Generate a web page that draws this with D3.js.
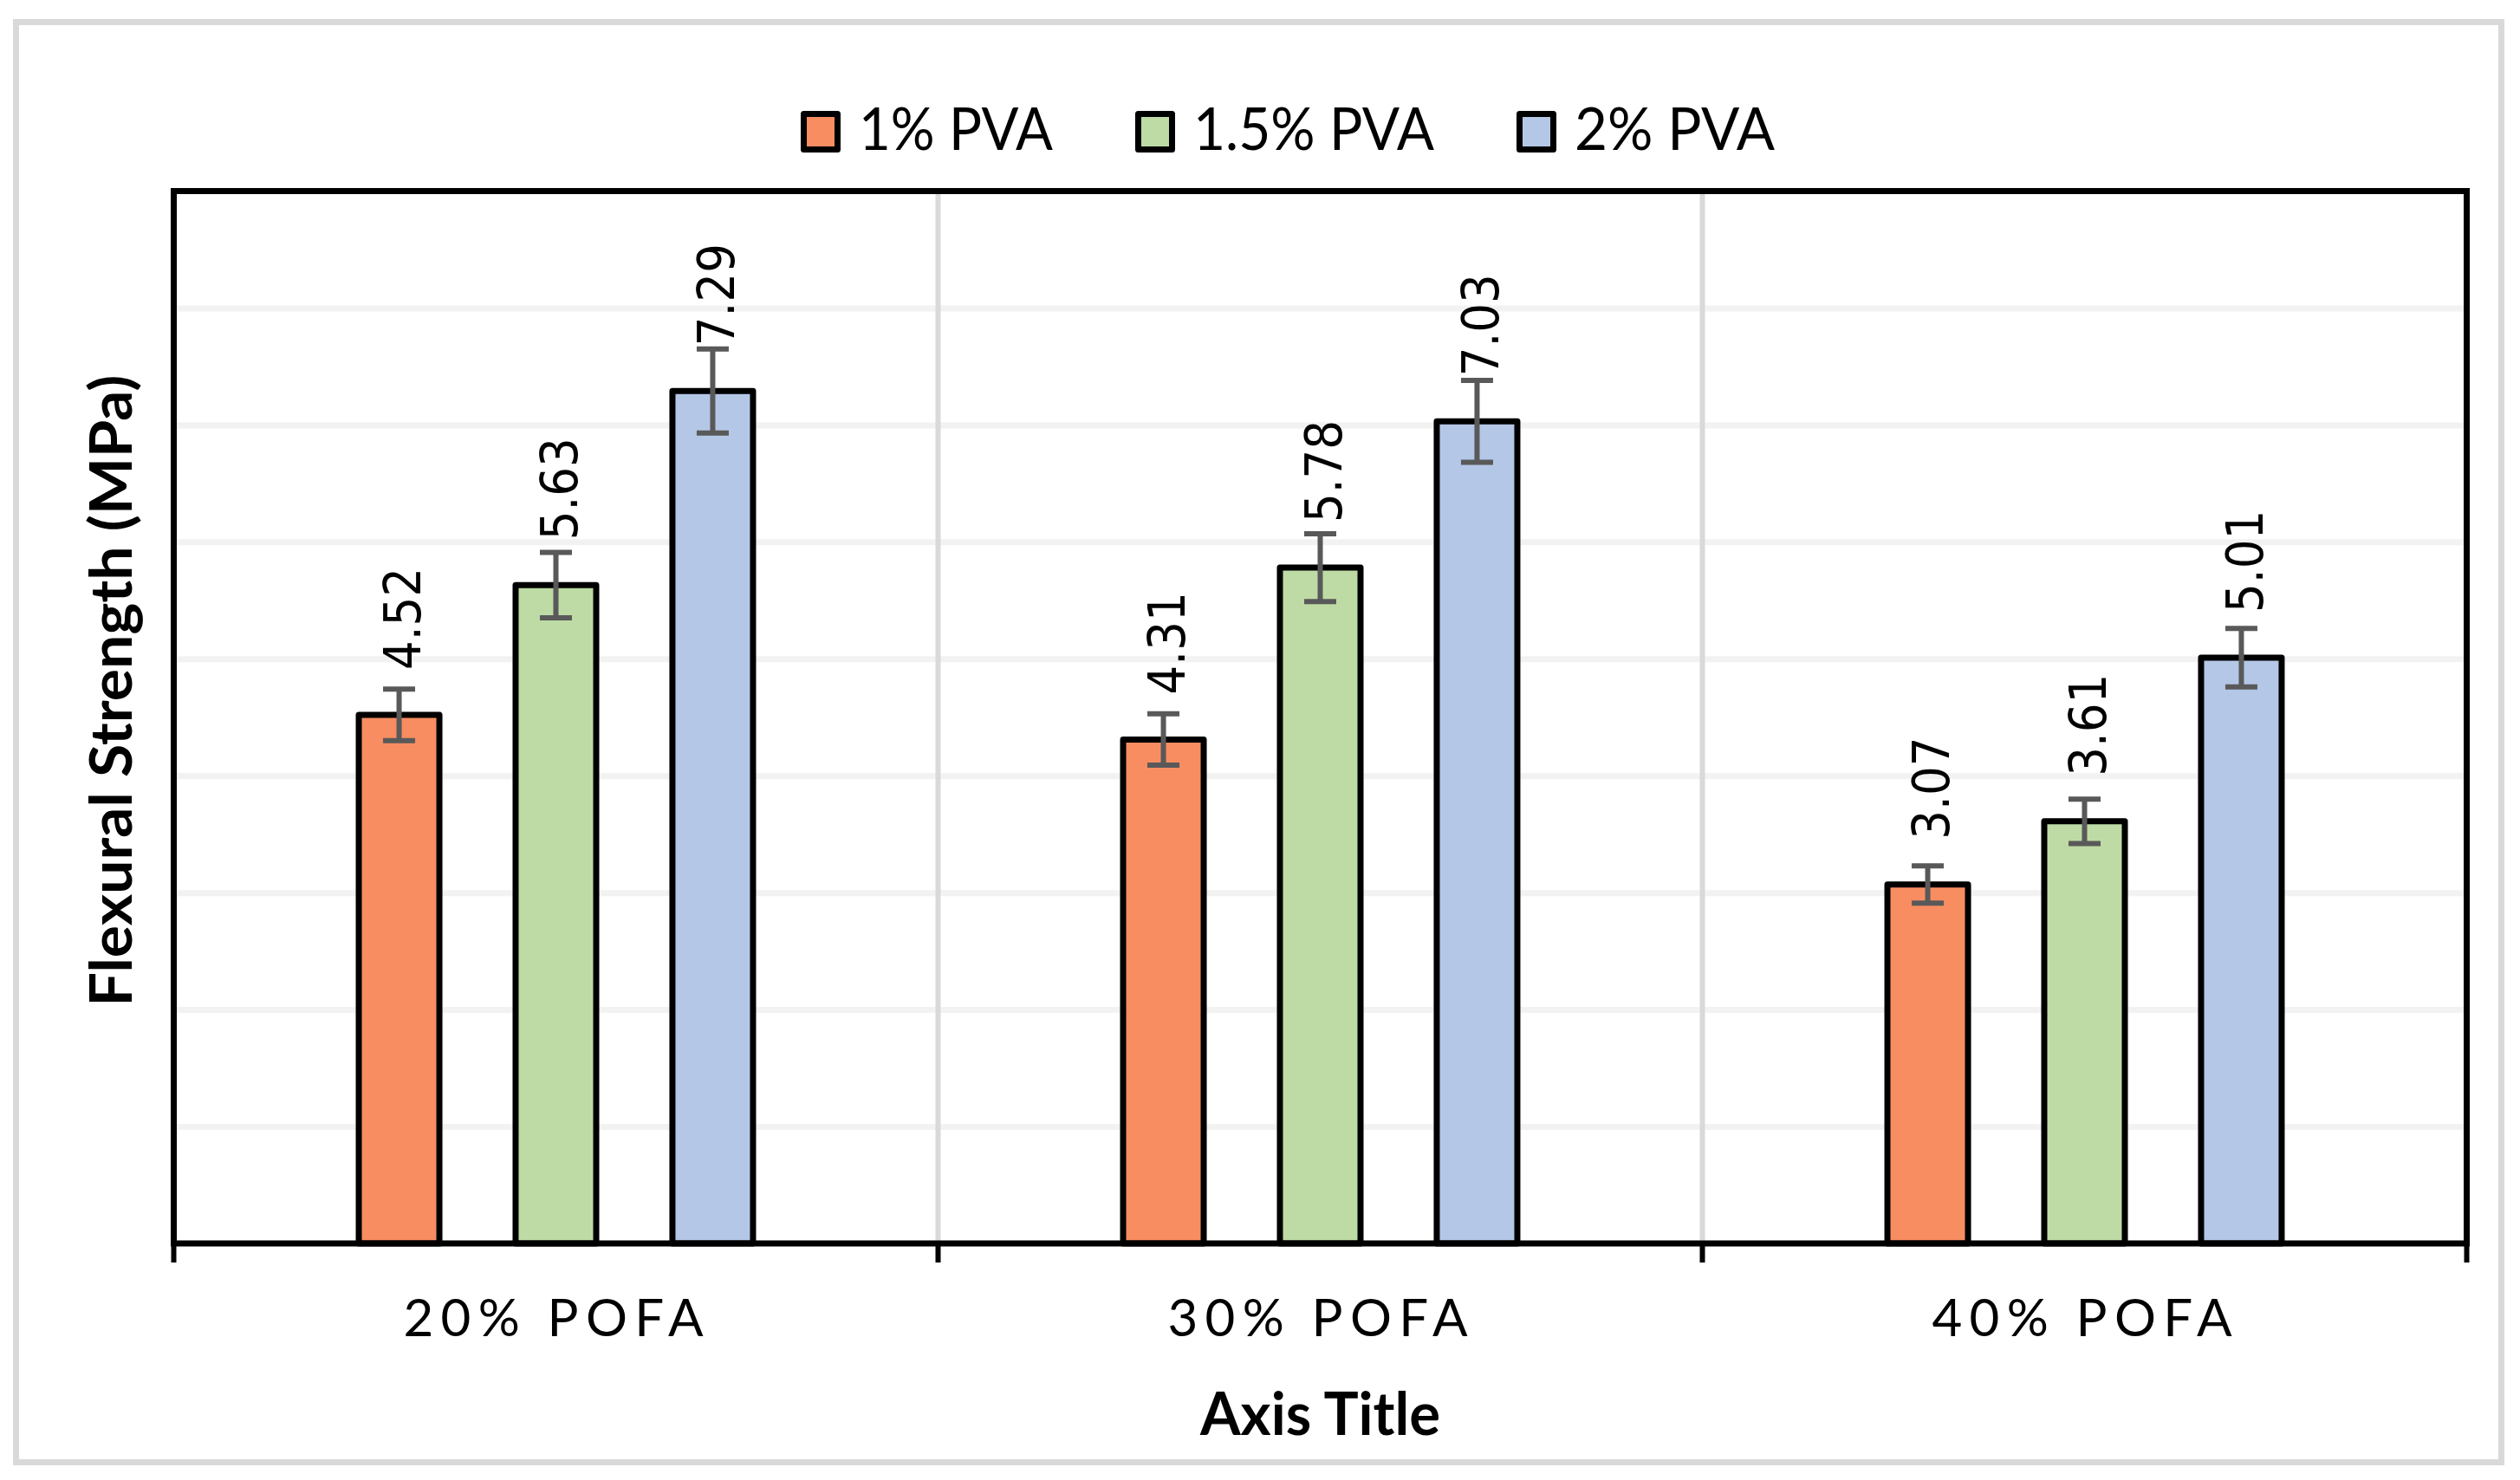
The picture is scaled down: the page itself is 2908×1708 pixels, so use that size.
<!DOCTYPE html>
<html>
<head>
<meta charset="utf-8">
<script src="https://cdn.jsdelivr.net/npm/d3@7"></script>
<style>
  html, body { margin: 0; padding: 0; background: #fff; }
  svg { display: block; }
</style>
</head>
<body>
<svg id="chart"></svg>
<script>
// Data
const categories = ["20% POFA", "30% POFA", "40% POFA"];
const series = ["1% PVA", "1.5% PVA", "2% PVA"];
const pva1 = [4.52, 4.31, 3.07];
const pva15 = [5.63, 5.78, 3.61];
const pva2 = [7.29, 7.03, 5.01];
const err1 = [0.22, 0.22, 0.16];
const err15 = [0.28, 0.29, 0.19];
const err2 = [0.36, 0.35, 0.25];
const gridTicks = [1, 2, 3, 4, 5, 6, 7, 8];

const values = [pva1, pva15, pva2];
const errors = [err1, err15, err2];
const colors = ["#F88D61", "#BEDBA6", "#B4C7E7"];

// Chart dimensions
const width = 2908;
const height = 1708;
const plotLeft = 200.5;
const plotRight = 2846.5;
const plotTop = 220.5;
const plotBottom = 1435;

const svg = d3.select("#chart")
  .attr("width", width)
  .attr("height", height)
  .attr("viewBox", [0, 0, width, height]);

// Outer chart frame
svg.append("rect")
  .attr("x", 18.5).attr("y", 25.5)
  .attr("width", 2868).attr("height", 1662)
  .attr("fill", "#fff")
  .attr("stroke", "#D9D9D9")
  .attr("stroke-width", 7);

// Scales
const x0 = d3.scaleBand(categories, [plotLeft, plotRight]);
const x1 = d3.scaleBand(series, [0, x0.bandwidth()])
  .paddingInner(0.486)
  .paddingOuter(1.18);
const y = d3.scaleLinear([0, 9], [plotBottom, plotTop]);

// Horizontal gridlines
svg.append("g")
  .attr("transform", `translate(${plotLeft},0)`)
  .call(d3.axisLeft(y).tickValues(gridTicks).tickSize(-(plotRight - plotLeft)).tickFormat(""))
  .call(g => g.select(".domain").remove())
  .call(g => g.selectAll(".tick line")
    .attr("stroke", "#F2F2F2")
    .attr("stroke-width", 7));

// Vertical category dividers
svg.append("g")
  .selectAll("line")
  .data(categories.slice(1))
  .join("line")
  .attr("x1", d => x0(d)).attr("x2", d => x0(d))
  .attr("y1", plotTop).attr("y2", plotBottom)
  .attr("stroke", "#D9D9D9")
  .attr("stroke-width", 6);

// Bars
const flat = [];
series.forEach((s, si) => categories.forEach((c, ci) => {
  flat.push({ c, s, si, v: values[si][ci], e: errors[si][ci] });
}));

svg.append("g")
  .selectAll("rect")
  .data(flat)
  .join("rect")
  .attr("x", d => x0(d.c) + x1(d.s))
  .attr("y", d => y(d.v))
  .attr("width", x1.bandwidth())
  .attr("height", d => y(0) - y(d.v))
  .attr("fill", d => colors[d.si])
  .attr("stroke", "#000")
  .attr("stroke-width", 7)
  .attr("stroke-linejoin", "round");

// Plot area border
svg.append("rect")
  .attr("x", plotLeft).attr("y", plotTop)
  .attr("width", plotRight - plotLeft).attr("height", plotBottom - plotTop)
  .attr("fill", "none")
  .attr("stroke", "#000")
  .attr("stroke-width", 7);

// Category boundary ticks
const bounds = categories.map(c => x0(c)).concat([x0.range()[1]]);
svg.append("g")
  .selectAll("line")
  .data(bounds)
  .join("line")
  .attr("x1", d => d).attr("x2", d => d)
  .attr("y1", plotBottom).attr("y2", plotBottom + 22)
  .attr("stroke", "#000")
  .attr("stroke-width", 6);

// Error bars
const cx = d => x0(d.c) + x1(d.s) + x1.bandwidth() / 2;
const capHalf = 18.5;

svg.append("g")
  .attr("stroke", "#595959")
  .attr("stroke-width", 6)
  .attr("fill", "none")
  .selectAll("path")
  .data(flat)
  .join("path")
  .attr("d", d => {
    const x = cx(d), yt = y(d.v + d.e), yb = y(d.v - d.e);
    return `M${x},${yt}V${yb}M${x - capHalf},${yt}H${x + capHalf}M${x - capHalf},${yb}H${x + capHalf}`;
  });

// Data labels (outside end of the bar, rotated)
svg.append("g")
  .selectAll("text")
  .data(flat)
  .join("text")
  .attr("transform", d => `translate(${cx(d) + 3},${y(d.v) - 52}) rotate(-90)`)
  .attr("dy", "0.36em")
  .attr("text-anchor", "start")
  .style("font-family", "'DejaVu Sans', Verdana, sans-serif")
  .style("font-stretch", "condensed")
  .style("font-size", "59px")
  .attr("fill", "#000")
  .text(d => d.v.toFixed(2));

// Category labels
svg.append("g")
  .selectAll("text")
  .data(categories)
  .join("text")
  .attr("x", d => x0(d) + x0.bandwidth() / 2 - 3)
  .attr("y", 1542)
  .attr("text-anchor", "middle")
  .attr("textLength", 346)
  .attr("lengthAdjust", "spacing")
  .style("font-family", "Lato, Carlito, sans-serif")
  .style("font-size", "60px")
  .attr("fill", "#000")
  .text(d => d);

// Axis titles
svg.append("text")
  .attr("x", (plotLeft + plotRight) / 2)
  .attr("y", 1656)
  .attr("text-anchor", "middle")
  .attr("textLength", 277)
  .attr("lengthAdjust", "spacingAndGlyphs")
  .style("font-family", "Lato, Carlito, sans-serif")
  .style("font-weight", "bold")
  .style("font-size", "68px")
  .text("Axis Title");

svg.append("text")
  .attr("transform", "translate(152,797) rotate(-90)")
  .attr("text-anchor", "middle")
  .attr("textLength", 729)
  .attr("lengthAdjust", "spacingAndGlyphs")
  .style("font-family", "Lato, Carlito, sans-serif")
  .style("font-weight", "bold")
  .style("font-size", "66px")
  .text("Flexural Strength (MPa)");

// Legend
const legendTextLen = [224, 278, 231];
const legend = svg.append("g");
let lx = 924;
series.forEach((s, i) => {
  legend.append("rect")
    .attr("x", lx + 3.5).attr("y", 131.5)
    .attr("width", 39).attr("height", 41)
    .attr("fill", colors[i])
    .attr("stroke", "#000")
    .attr("stroke-width", 7)
    .attr("stroke-linejoin", "round");
  legend.append("text")
    .attr("x", lx + 67)
    .attr("y", 173)
    .attr("textLength", legendTextLen[i])
    .attr("lengthAdjust", "spacingAndGlyphs")
    .style("font-family", "Lato, Carlito, sans-serif")
    .style("font-size", "67px")
    .text(s);
  lx += 67 + legendTextLen[i] + 95;
});
</script>
</body>
</html>
